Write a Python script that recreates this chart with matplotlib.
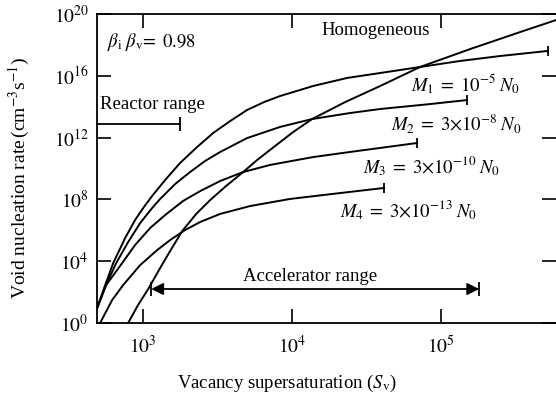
import math
import matplotlib
matplotlib.use('Agg')
import matplotlib.pyplot as plt
from matplotlib.ticker import FixedLocator, FuncFormatter

# curves as (log10 Sv, log10 rate)
m1_logx = [2.691, 2.745, 2.799, 2.879, 2.946, 3.000, 3.060, 3.148, 3.248, 3.362, 3.470,
           3.584, 3.698, 3.812, 3.919, 4.141, 4.369, 4.591, 4.859, 5.128, 5.396, 5.718]
m1_logy = [0.97, 2.46, 3.88, 5.50, 6.67, 7.44, 8.22, 9.26, 10.36, 11.39, 12.30,
           13.07, 13.79, 14.30, 14.69, 15.34, 15.86, 16.18, 16.57, 16.96, 17.28, 17.61]

m2_logx = [2.691, 2.745, 2.819, 2.899, 2.980, 3.060, 3.114, 3.215, 3.315, 3.416, 3.517,
           3.698, 3.919, 4.134, 4.389, 4.591, 4.926, 5.174]
m2_logy = [0.97, 2.33, 3.88, 5.24, 6.47, 7.44, 8.03, 9.00, 9.77, 10.49, 11.07,
           11.97, 12.69, 13.20, 13.59, 13.85, 14.17, 14.43]

m3_logx = [2.691, 2.752, 2.859, 2.946, 3.047, 3.148, 3.268, 3.383, 3.517, 3.671, 3.852,
           4.141, 4.389, 4.591, 4.839]
m3_logy = [0.97, 2.46, 3.88, 5.05, 6.15, 6.99, 7.90, 8.54, 9.19, 9.77, 10.23,
           10.74, 11.07, 11.33, 11.65]

m4_logx = [2.711, 2.792, 2.866, 2.980, 3.094, 3.181, 3.282, 3.383, 3.517, 3.718, 3.987,
           4.322, 4.617]
m4_logy = [0.0, 1.49, 2.46, 3.75, 4.72, 5.37, 6.02, 6.54, 7.06, 7.57, 8.03, 8.41, 8.74]

homo_logx = [2.899, 2.966, 3.034, 3.114, 3.181, 3.262, 3.356, 3.450, 3.557, 3.664, 3.765,
             3.886, 4.007, 4.134, 4.356, 4.591, 4.859, 5.195, 5.530, 5.772]
homo_logy = [0.0, 1.17, 2.20, 3.56, 4.66, 5.95, 7.06, 7.96, 8.87, 9.71, 10.55,
             11.46, 12.36, 13.20, 14.30, 15.34, 16.57, 17.73, 18.83, 19.61]

m_curves = [(m1_logx, m1_logy), (m2_logx, m2_logy), (m3_logx, m3_logy), (m4_logx, m4_logy)]
m_labels = [r'$M_1\;=\;10^{-5}\;N_0$', r'$M_2\;=\;3{\times}10^{-8}\;N_0$',
            r'$M_3\;=\;3{\times}10^{-10}\;N_0$', r'$M_4\;=\;3{\times}10^{-13}\;N_0$']

# ranges
reactor_sv = [490, 1770]
reactor_rate = 10**12.88
accel_sv = [1132, 1.8e5]
accel_rate = 10**2.2

x_ticks = [1e3, 1e4, 1e5]
y_ticks = [1e0, 1e4, 1e8, 1e12, 1e16, 1e20]

plt.rcParams['font.family'] = ['Liberation Serif', 'DejaVu Serif']
plt.rcParams['mathtext.fontset'] = 'stix'

fig = plt.figure(figsize=(5.56, 3.95), dpi=100)
ax = fig.add_axes([0.1745, 0.1823, 0.8255, 0.7823])
ax.set_xscale('log')
ax.set_yscale('log')
ax.set_xlim(490, 5.9e5)
ax.set_ylim(1, 1e20)

lw = 1.4
for lx, ly in m_curves:
    xs = [10**v for v in lx]
    ys = [10**v for v in ly]
    ax.plot(xs, ys, color='k', lw=lw, solid_joinstyle='round')
    ax.plot(xs[-1], ys[-1], marker='|', color='k', ms=7, mew=1.3)

ax.plot([10**v for v in homo_logx], [10**v for v in homo_logy], color='k', lw=lw,
        solid_joinstyle='round')

# reactor range bar
ax.plot(reactor_sv, [reactor_rate, reactor_rate], color='k', lw=1.3)
ax.plot(reactor_sv[1], reactor_rate, marker='|', color='k', ms=10, mew=1.3)

# accelerator range arrow
ax.annotate('', xy=(accel_sv[0], accel_rate), xytext=(accel_sv[1], accel_rate),
            arrowprops=dict(arrowstyle='<|-|>', color='k', lw=1.3, shrinkA=0, shrinkB=0,
                            mutation_scale=18))
ax.plot(accel_sv, [accel_rate, accel_rate], ls='none', marker='|', color='k', ms=10, mew=1.3)

fs = 13.5
ax.text(514, 10**14.11, 'Reactor range', fontsize=fs, va='center', ha='left')
ax.text(10**4.121, 10**2.98, 'Accelerator range', fontsize=fs, va='center', ha='center')
ax.text(10**4.557, 10**18.96, 'Homogeneous', fontsize=fs, va='center', ha='center')
ax.text(573, 10**18.19, r'$\beta_{\rm i}\;\beta_{\rm v}\!=\;0.98$', fontsize=fs,
        va='center', ha='left')

label_pos = [(10**4.799, 10**15.47), (10**4.664, 10**12.88),
             (10**4.477, 10**10.16), (10**4.322, 10**7.31)]
for (tx, ty), lab in zip(label_pos, m_labels):
    ax.text(tx, ty, lab, fontsize=fs, va='center', ha='left')

ax.xaxis.set_major_locator(FixedLocator(x_ticks))
ax.yaxis.set_major_locator(FixedLocator(y_ticks))
ax.xaxis.set_minor_locator(FixedLocator([]))
ax.yaxis.set_minor_locator(FixedLocator([]))
fmt = FuncFormatter(lambda v, p: r'$10^{%d}$' % round(math.log10(v)))
ax.xaxis.set_major_formatter(fmt)
ax.yaxis.set_major_formatter(fmt)
ax.tick_params(which='both', direction='in', length=10, width=1.2, labelsize=14,
               top=True, right=True)
ax.tick_params(axis='x', pad=9)
ax.tick_params(axis='y', pad=6)

for side in ['left', 'bottom', 'top']:
    ax.spines[side].set_linewidth(1.3)
ax.spines['right'].set_visible(False)

ax.set_xlabel(r'Vacancy supersaturation ($S_{\rm v}$)', fontsize=13.5)
ax.xaxis.set_label_coords(0.414, -0.197)
ax.xaxis.label.set_va('center')
ax.set_ylabel(r'Void nucleation rate$\,$(cm$^{-3}$s$^{-1}$)', fontsize=14)
ax.yaxis.set_label_coords(-0.168, 0.469)
ax.yaxis.label.set_va('center')

fig.savefig('out.png', dpi=100)
